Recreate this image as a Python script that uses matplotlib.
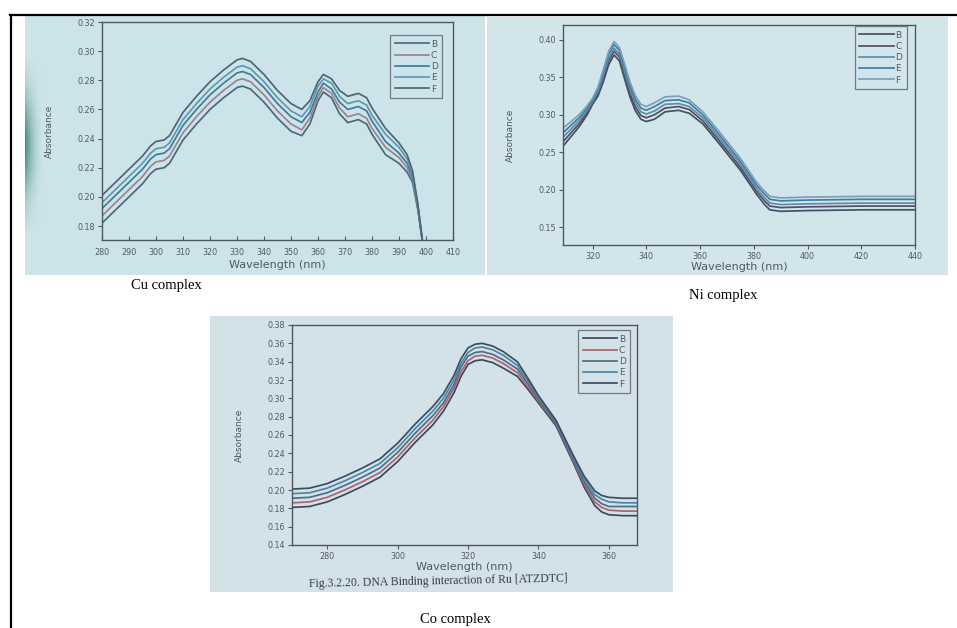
import matplotlib
matplotlib.use("Agg")
import matplotlib.pyplot as plt
from matplotlib.lines import Line2D
import numpy as np

# ---- data ----
labels = ["B", "C", "D", "E", "F"]

# Cu complex
x_cu = [280, 285, 290, 295, 298, 300, 303, 305, 310, 315, 320, 325, 330, 332, 335, 340, 345,
        350, 354, 357, 360, 362, 365, 368, 371, 375, 378, 380, 385, 390, 393, 395, 397, 399]
cu_F = [.201, .210, .219, .228, .235, .238, .239, .242, .258, .269, .279, .287, .294, .295, .293, .284, .273,
        .264, .260, .266, .279, .284, .281, .273, .269, .271, .268, .261, .247, .237, .229, .218, .195, .165]
cu_E = [.196, .205, .214, .223, .230, .233, .234, .237, .253, .264, .274, .282, .289, .290, .288, .279, .268,
        .259, .255, .262, .276, .281, .278, .269, .264, .266, .263, .256, .243, .234, .226, .216, .194, .165]
cu_D = [.192, .201, .210, .219, .226, .229, .230, .233, .249, .260, .270, .278, .285, .286, .284, .275, .264,
        .255, .251, .258, .272, .278, .274, .265, .260, .262, .259, .252, .238, .230, .223, .214, .193, .165]
cu_C = [.187, .196, .205, .214, .221, .224, .225, .228, .244, .255, .265, .273, .280, .281, .279, .270, .259,
        .250, .246, .254, .269, .275, .271, .261, .255, .257, .254, .247, .234, .227, .220, .212, .192, .165]
cu_B = [.182, .191, .200, .209, .216, .219, .220, .223, .239, .250, .260, .268, .275, .276, .274, .265, .254,
        .245, .242, .250, .266, .272, .268, .257, .251, .253, .250, .243, .229, .223, .217, .210, .191, .165]

# Ni complex
x_ni = [309, 312, 315, 318, 320, 322, 324, 326, 328, 330, 332, 334, 336, 338, 340, 343, 347,
        352, 356, 361, 367, 375, 381, 384, 386, 390, 400, 420, 440]
ni_F = [.282, .291, .300, .312, .322, .337, .360, .385, .398, .390, .367, .343, .325, .314, .311, .316, .324,
        .325, .320, .304, .278, .242, .210, .198, .191, .189, .190, .191, .191]
ni_E = [.276, .286, .296, .309, .320, .334, .356, .381, .394, .386, .362, .338, .320, .309, .306, .311, .319,
        .320, .316, .300, .274, .238, .206, .194, .187, .185, .186, .187, .187]
ni_D = [.270, .281, .292, .306, .318, .331, .352, .376, .389, .381, .357, .333, .315, .304, .301, .305, .314,
        .315, .311, .296, .270, .234, .202, .189, .182, .180, .181, .182, .182]
ni_C = [.264, .276, .288, .303, .316, .328, .348, .372, .385, .377, .352, .328, .310, .299, .296, .300, .309,
        .311, .307, .292, .266, .230, .198, .185, .178, .176, .177, .178, .178]
ni_B = [.258, .271, .284, .300, .314, .325, .344, .367, .380, .372, .347, .323, .305, .294, .291, .294, .304,
        .306, .302, .288, .262, .226, .194, .180, .173, .171, .172, .173, .173]

# Co complex
x_co = [270, 275, 280, 285, 290, 295, 300, 305, 310, 313, 316, 318, 320, 322, 324, 327, 330,
        334, 337, 340, 345, 350, 353, 356, 358, 360, 364, 368]
co_F = [.201, .202, .207, .215, .224, .234, .251, .272, .291, .305, .325, .343, .355, .359, .360, .357, .351,
        .340, .322, .303, .276, .237, .215, .199, .194, .192, .191, .191]
co_E = [.196, .197, .202, .210, .219, .229, .246, .267, .286, .300, .320, .338, .350, .355, .356, .353, .347,
        .336, .319, .301, .275, .235, .212, .195, .190, .187, .186, .186]
co_D = [.191, .192, .197, .205, .214, .224, .241, .262, .281, .295, .315, .334, .346, .350, .351, .348, .342,
        .332, .316, .299, .273, .233, .209, .191, .185, .182, .182, .182]
co_C = [.186, .187, .192, .200, .209, .219, .236, .257, .276, .291, .311, .329, .341, .346, .347, .344, .338,
        .328, .313, .297, .272, .231, .206, .187, .181, .178, .177, .177]
co_B = [.181, .182, .187, .195, .204, .214, .231, .252, .271, .286, .306, .324, .337, .341, .342, .339, .333,
        .324, .310, .295, .270, .229, .203, .183, .176, .173, .172, .172]

W, H = 957, 628
txt = "#505a62"


def px_rect(x0, y0, x1, y1):
    # pixel box (top-left origin) -> figure fraction [l, b, w, h]
    return [x0 / W, 1 - y1 / H, (x1 - x0) / W, (y1 - y0) / H]


def photo(box, color):
    bg = fig.add_axes(px_rect(*box))
    bg.set_facecolor(color)
    bg.set_xticks([])
    bg.set_yticks([])
    for s in bg.spines.values():
        s.set_visible(False)
    return bg


def spectrum(box, xs, series, colors, xlim, ylim, xticks, yticks, anchor,
             xdir="out", xpad=2, xlabelpad=1):
    ax = fig.add_axes(px_rect(*box))
    ax.set_facecolor("none")
    for ys, c, lab in zip(series, colors, labels):
        ax.plot(xs, ys, color=c, lw=1.25, label=lab, solid_joinstyle="round")
    ax.set_xlim(*xlim)
    ax.set_ylim(*ylim)
    ax.set_xticks(xticks)
    ax.set_yticks(yticks)
    ax.set_yticklabels(["{:.2f}".format(v) for v in yticks])
    ax.tick_params(axis="x", direction=xdir, length=3, labelsize=5.8, colors=txt, pad=xpad)
    ax.tick_params(axis="y", direction="out", length=3, labelsize=5.8, colors=txt, pad=2)
    for s in ax.spines.values():
        s.set_color("#4f585e")
        s.set_linewidth(1.0)
    ax.set_xlabel("Wavelength (nm)", fontsize=8, color=txt, labelpad=xlabelpad)
    ax.set_ylabel("Absorbance", fontsize=6.5, color=txt, labelpad=17)
    leg = ax.legend(loc="upper right", bbox_to_anchor=anchor, fontsize=6.5, frameon=True,
                    fancybox=False, edgecolor="#5a6166", facecolor="none", borderaxespad=0,
                    handlelength=3.8, handletextpad=0.2, labelspacing=0.25, borderpad=0.5)
    leg.get_frame().set_linewidth(0.9)
    for t in leg.get_texts():
        t.set_color(txt)
    return ax


fig = plt.figure(figsize=(W / 100, H / 100), dpi=100)

# page border (top and left rules)
fig.add_artist(Line2D([10 / W, 957 / W], [1 - 15 / H, 1 - 15 / H], color="black", lw=1.6,
                      transform=fig.transFigure))
fig.add_artist(Line2D([11 / W, 11 / W], [1 - 15 / H, 0], color="black", lw=1.6,
                      transform=fig.transFigure))

# photo backgrounds
photo((25, 16, 485, 275), "#cde3ea")
photo((487, 17, 948, 275), "#d2e5eb")
photo((210, 316, 673, 592), "#d3e2e8")

# green smear on the left edge of the Cu photo
smear = fig.add_axes(px_rect(25, 60, 45, 230))
smear.axis("off")
gx = np.linspace(0, 1, 40)
gy = np.linspace(-1, 1, 80)
alpha = np.outer(np.exp(-gy ** 2 / 0.35), np.clip(1 - gx, 0, 1) ** 2) * 0.85
rgba = np.zeros((80, 40, 4))
rgba[..., 0], rgba[..., 1], rgba[..., 2] = 0.18, 0.50, 0.42
rgba[..., 3] = alpha
smear.imshow(rgba, aspect="auto", interpolation="bilinear")

# Cu complex
spectrum((102, 22, 453, 240), x_cu, [cu_B, cu_C, cu_D, cu_E, cu_F],
         ["#4b6a78", "#9c8290", "#3f7d92", "#5b9ab2", "#4f6672"],
         (280, 410), (0.1704, 0.32), list(range(280, 411, 10)),
         [0.18, 0.20, 0.22, 0.24, 0.26, 0.28, 0.30, 0.32], (0.969, 0.94),
         xdir="in", xpad=6, xlabelpad=2)

# Ni complex
spectrum((563, 25, 915, 245), x_ni, [ni_B, ni_C, ni_D, ni_E, ni_F],
         ["#3d5468", "#5b4a60", "#5d8ea5", "#3e7ea6", "#7aa0b8"],
         (309, 440), (0.126, 0.42), [320, 340, 360, 380, 400, 420, 440],
         [0.15, 0.20, 0.25, 0.30, 0.35, 0.40], (0.977, 0.995))

# Co complex
spectrum((292, 325, 637, 545), x_co, [co_B, co_C, co_D, co_E, co_F],
         ["#3c4a5a", "#b0606e", "#4d6f86", "#4a86a8", "#3d4d5c"],
         (270, 368), (0.14, 0.38), [280, 300, 320, 340, 360],
         [0.14, 0.16, 0.18, 0.20, 0.22, 0.24, 0.26, 0.28, 0.30, 0.32, 0.34, 0.36, 0.38],
         (0.98, 0.977))

# captions
serif = ["Liberation Serif", "DejaVu Serif"]
fig.text(166 / W, 1 - 285 / H, "Cu complex", family=serif, fontsize=10.5, ha="center", va="center")
fig.text(723 / W, 1 - 296 / H, "Ni complex", family=serif, fontsize=10.5, ha="center", va="center")
fig.text(438 / W, 1 - 581 / H, "Fig.3.2.20. DNA Binding interaction of Ru [ATZDTC]", family=serif,
         fontsize=8.5, color="#3a3f44", ha="center", va="center", rotation=1.2)
fig.text(455 / W, 1 - 619 / H, "Co complex", family=serif, fontsize=10.5, ha="center", va="center")

fig.savefig("out.png", dpi=100)
